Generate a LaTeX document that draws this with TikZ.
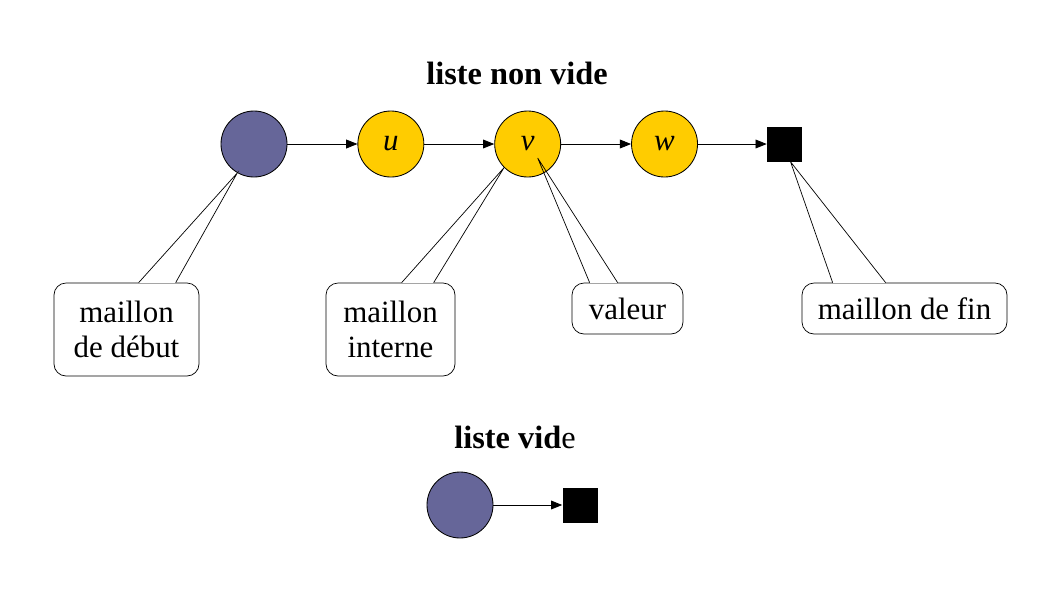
\documentclass[tikz,border=0pt]{standalone}
\usepackage{fontspec}
\setmainfont{Liberation Serif}
\usetikzlibrary{positioning,arrows.meta}
\definecolor{tetebleu}{RGB}{102,102,153}
\definecolor{internejaune}{RGB}{255,204,0}
\begin{document}
\begin{tikzpicture}[
        % 全局樣式設定
        font=\fontsize{22}{25}\selectfont,
        node distance=1.75cm,   % 節點之間的水平距離
        % 節點樣式:圓形鏈節
        maillon/.style={
            circle,
            draw=black,
            line width=0.6pt,
            minimum size=1.65cm,
            inner sep=0pt
        },
        tete/.style={maillon, fill=tetebleu},
        interne/.style={maillon, fill=internejaune},
        % 結尾方塊
        finbloc/.style={
            rectangle,
            fill=black,
            minimum size=0.875cm,
            inner sep=0pt
        },
        % 連線樣式
        lien/.style={
            -{Triangle[length=2.8mm,width=2.2mm]},
            line width=0.6pt
        },
        % 說明框樣式:圓角、白底
        bulle/.style={
            draw=black,
            fill=white,
            rounded corners=0.3cm,
            line width=0.5pt,
            align=center,
            inner sep=0pt
        },
        pointe/.style={draw=black, line width=0.5pt},
        % 標題樣式
        titre/.style={font=\fontsize{23}{26}\selectfont\bfseries}
    ]
    \useasboundingbox (0,0) rectangle (26.6,-15.2);

        % --- 非空串列 ---
        \node[titre] (titre1) at (12.925,-1.825) {liste non vide};
        \node[tete] (deb) at (6.35,-3.6) {};
        \node[interne, right=of deb] (u) {\textit{u}};
        \node[interne, right=of u] (v) {\textit{v}};
        \node[interne, right=of v] (w) {\textit{w}};
        \node[finbloc, right=1.72cm of w] (fin) {};

        \draw[lien] (deb) -- (u);
        \draw[lien] (u) -- (v);
        \draw[lien] (v) -- (w);
        \draw[lien] (w) -- (fin);

        % --- 說明框 ---
        \node[bulle, minimum width=3.625cm, minimum height=2.325cm] (bdeb) at (3.1625,-8.2375) {maillon\\de début};
        \node[bulle, minimum width=3.225cm, minimum height=2.325cm] (bint) at (9.7625,-8.2375) {maillon\\interne};
        \node[bulle, minimum width=2.775cm, minimum height=1.275cm] (bval) at (15.6875,-7.7125) {valeur};
        \node[bulle, minimum width=5.125cm, minimum height=1.275cm] (bfin) at (22.6125,-7.7125) {maillon de fin};

        % 指標 (先擦掉框線,再畫兩條邊)
        \coordinate (d1) at ([xshift=2.125cm]bdeb.north west);
        \coordinate (d2) at ([xshift=3.05cm]bdeb.north west);
        \draw[white, line width=1.2pt] (d1) -- (d2);
        \draw[pointe] (d1) -- (deb.-120) -- (d2);

        \coordinate (i1) at ([xshift=1.9cm]bint.north west);
        \coordinate (i2) at ([xshift=2.7cm]bint.north west);
        \draw[white, line width=1.2pt] (i1) -- (i2);
        \draw[pointe] (i1) -- (v.-135) -- (i2);

        \coordinate (a1) at ([xshift=0.45cm]bval.north west);
        \coordinate (a2) at ([xshift=1.15cm]bval.north west);
        \draw[white, line width=1.2pt] (a1) -- (a2);
        \draw[pointe] (a1) -- ([xshift=0.25cm,yshift=-0.35cm]v.center) -- (a2);

        \coordinate (f1) at ([xshift=0.775cm]bfin.north west);
        \coordinate (f2) at ([xshift=2.1cm]bfin.north west);
        \draw[white, line width=1.2pt] (f1) -- (f2);
        \draw[pointe] (f1) -- ([xshift=0.15cm]fin.south) -- (f2);

        % --- 空串列 ---
        \node[titre] (titre2) at (12.875,-10.925) {liste vid\textmd{e}};
        \node[tete] (vide) at (11.5,-12.625) {};
        \node[finbloc, right=1.72cm of vide] (vfin) {};
        \draw[lien] (vide) -- (vfin);
    \end{tikzpicture}
\end{document}
